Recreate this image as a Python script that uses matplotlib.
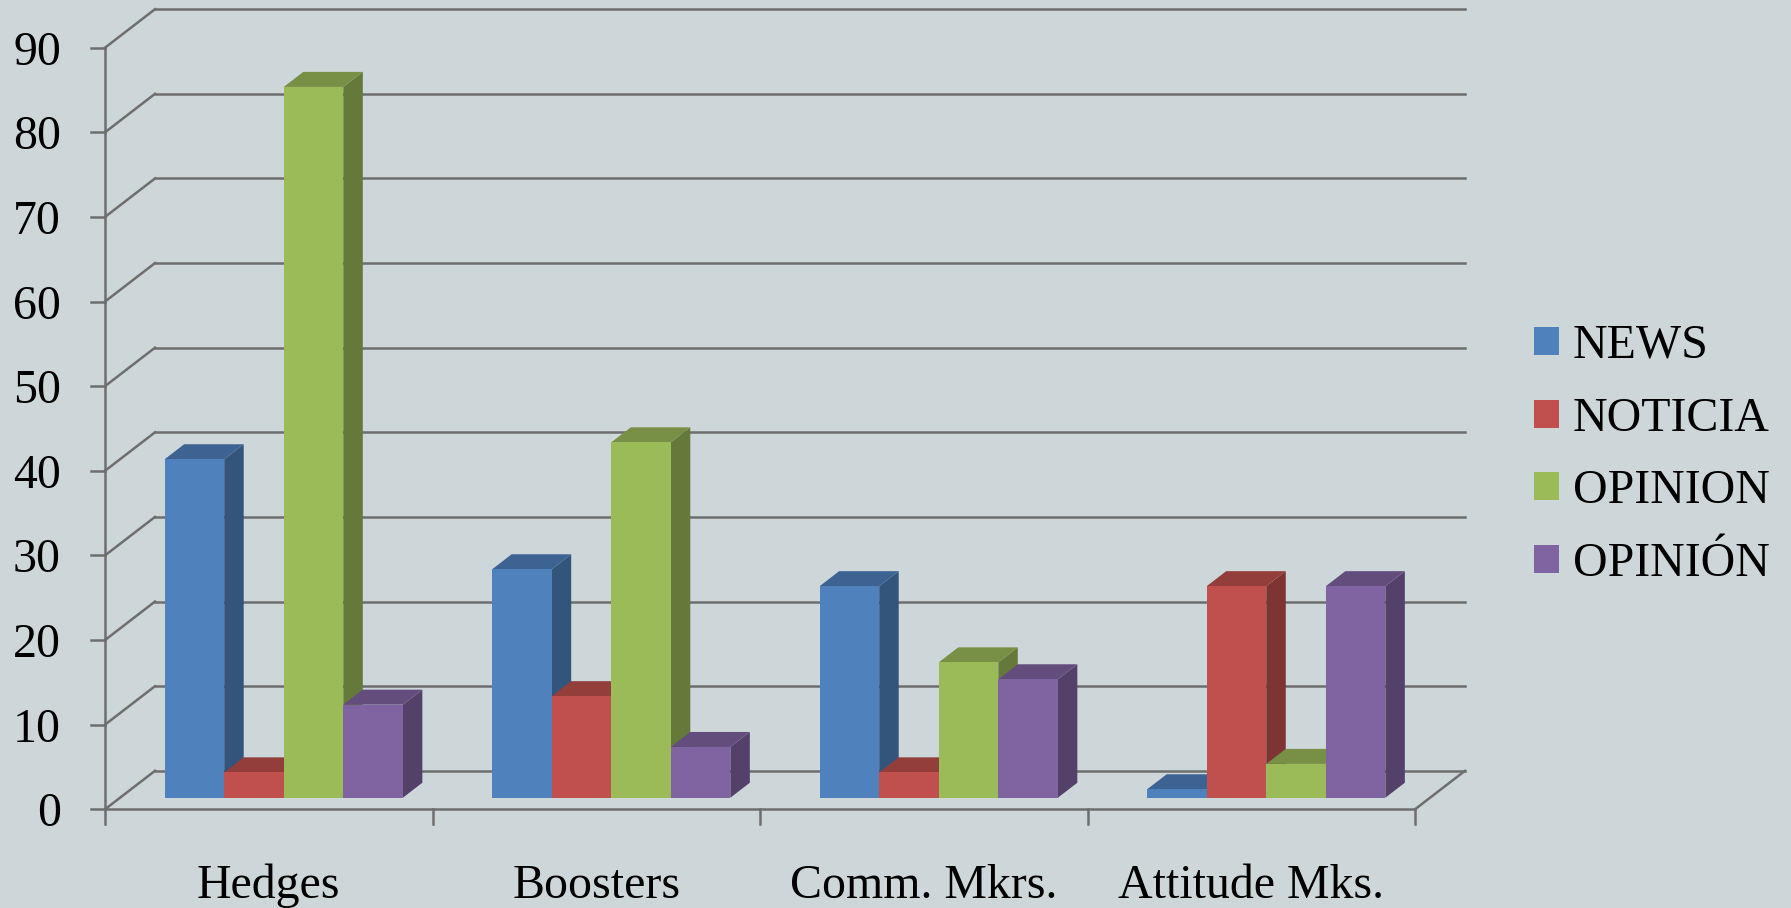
import matplotlib.pyplot as plt
from matplotlib.patches import Polygon, Patch
from matplotlib.colors import to_rgb

plt.rcParams["font.family"] = ["Liberation Serif", "DejaVu Serif"]

# data
categories = ["Hedges", "Boosters", "Comm. Mkrs.", "Attitude Mks."]
series = ["NEWS", "NOTICIA", "OPINION", "OPINIÓN"]
news = [40, 27, 25, 1]
noticia = [3, 12, 3, 25]
opinion = [84, 42, 16, 4]
opinion_es = [11, 6, 14, 25]
y_ticks = [0, 10, 20, 30, 40, 50, 60, 70, 80, 90]

colors = ["#4F81BD", "#C0504D", "#9BBB59", "#8064A2"]
BG = "#CDD7DA"
GRID = "#6E6E6E"


def shade(color, k):
    r, g, b = to_rgb(color)
    return (r * k, g * k, b * k)


# pixel scale of the fake 3d frame
PX = 327.5   # px per category
PY = 8.4622  # px per value unit
DX = 50 / PX
DY = 38.5 / PY
F0, F1 = 0.30, 0.69  # depth of bar front / back
BAR_W = 1 / 5.5      # gap width 150%
FS = 34.5

fig = plt.figure(figsize=(17.91, 9.08), dpi=100)
fig.patch.set_facecolor(BG)
ax = fig.add_axes([0, 0, 1, 1])
ax.set_facecolor(BG)
ax.set_xlim(-105 / PX, (1791 - 105) / PX)
ax.set_ylim((809.3 - 908) / PY, 809.3 / PY)
ax.axis("off")

n_cat = len(categories)
top_v = y_ticks[-1]
lw = 1.8

# walls and gridlines
for v in y_ticks:
    ax.plot([0, DX], [v, v + DY], color=GRID, lw=lw, zorder=1)
    ax.plot([DX, n_cat + DX], [v + DY, v + DY], color=GRID, lw=lw, zorder=1)
    ax.plot([-14 / PX, 0], [v, v], color=GRID, lw=lw, zorder=1)
    ax.text(-44 / PX, v - 17 / PY, str(v), ha="right", va="baseline",
            fontsize=FS, color="black")

# floor edges and axes
ax.plot([0, n_cat], [0, 0], color=GRID, lw=lw, zorder=1)
ax.plot([n_cat, n_cat + DX], [0, DY], color=GRID, lw=lw, zorder=1)
ax.plot([0, 0], [-15 / PY, top_v], color=GRID, lw=lw, zorder=1)
for c in range(1, n_cat + 1):
    ax.plot([c, c], [-15 / PY, 0], color=GRID, lw=lw, zorder=1)

# bars
values = [news, noticia, opinion, opinion_es]
d = (F1 - F0) * DX
dd = (F1 - F0) * DY
z = 2
for c in range(n_cat):
    for i, vals in enumerate(values):
        h = vals[c]
        x0 = c + 0.75 * BAR_W + i * BAR_W + F0 * DX
        y0 = F0 * DY
        col = colors[i]
        side = Polygon([(x0 + BAR_W, y0), (x0 + BAR_W + d, y0 + dd),
                        (x0 + BAR_W + d, y0 + h + dd), (x0 + BAR_W, y0 + h)],
                       closed=True, facecolor=shade(col, 0.65), edgecolor="none",
                       zorder=z)
        top = Polygon([(x0, y0 + h), (x0 + BAR_W, y0 + h),
                       (x0 + BAR_W + d, y0 + h + dd), (x0 + d, y0 + h + dd)],
                      closed=True, facecolor=shade(col, 0.77), edgecolor="none",
                      zorder=z)
        ax.add_patch(side)
        ax.add_patch(top)
        ax.bar(x0, h, width=BAR_W, bottom=y0, align="edge", color=col,
               edgecolor="none", zorder=z + 0.5)
        z += 1

# category labels
for c, name in enumerate(categories):
    ax.text(c + 0.5, (809.3 - 898) / PY, name, ha="center", va="baseline",
            fontsize=FS, color="black")

handles = [Patch(facecolor=col, edgecolor="none") for col in colors]
ax.legend(handles, series, loc="center left",
          bbox_to_anchor=(1534 / 1791, 1 - 455 / 908),
          bbox_transform=fig.transFigure, frameon=False, fontsize=FS,
          handlelength=0.52, handleheight=0.52, handletextpad=0.29,
          labelspacing=0.6, borderpad=0, borderaxespad=0)

fig.savefig("out.png", dpi=100, facecolor=BG)
